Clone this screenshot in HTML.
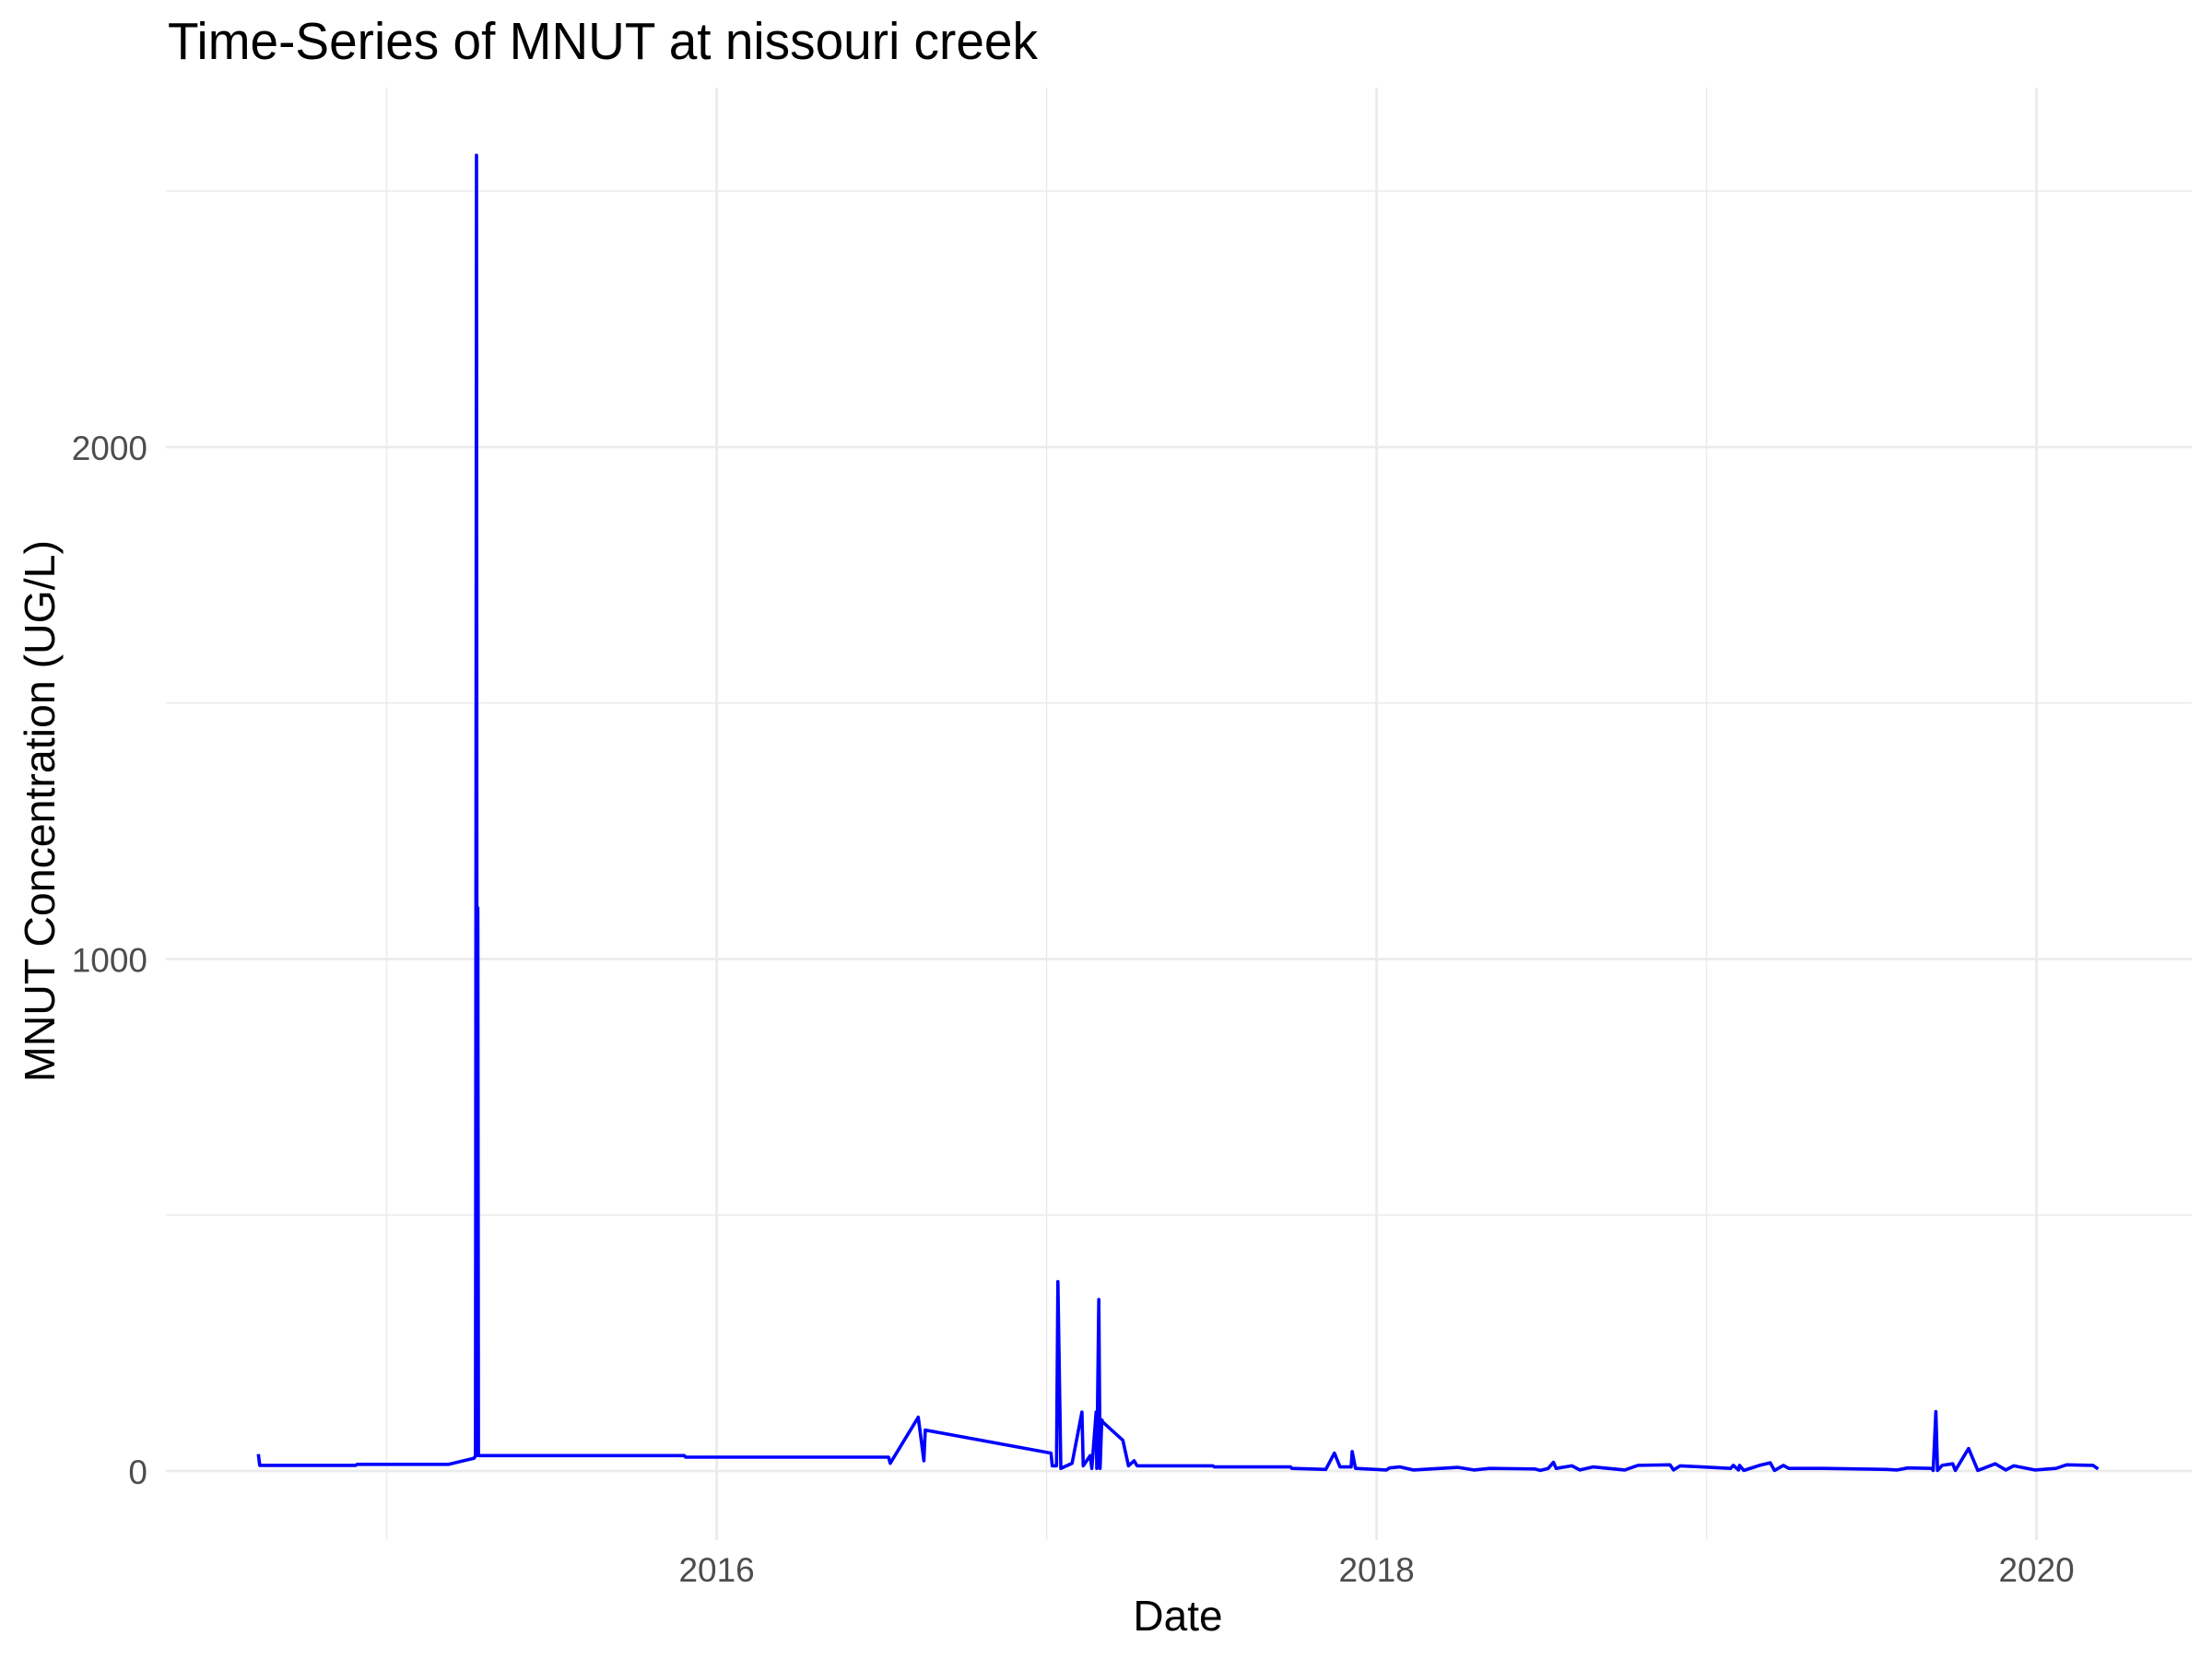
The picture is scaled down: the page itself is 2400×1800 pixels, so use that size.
<!DOCTYPE html>
<html><head><meta charset="utf-8">
<style>
html,body{margin:0;padding:0;background:#fff;}
svg{display:block;font-family:"Liberation Sans",Arial,sans-serif;}
</style></head>
<body>
<svg id="chart" width="2400" height="1800" viewBox="0 0 2400 1800" xmlns="http://www.w3.org/2000/svg">
<rect width="2400" height="1800" fill="#fff"/>
<g id="grid"></g>
<g id="ticks"></g>
<path id="series" fill="none" stroke="#0000ff" stroke-width="3.6" stroke-linejoin="round"/>
<text x="182" y="64" font-size="57" textLength="944" lengthAdjust="spacingAndGlyphs" fill="#000">Time-Series of MNUT at nissouri creek</text>
<text x="1278" y="1769" font-size="46" text-anchor="middle" fill="#000">Date</text>
<text transform="translate(59,880) rotate(-90)" font-size="46" textLength="588" lengthAdjust="spacingAndGlyphs" text-anchor="middle" fill="#000">MNUT Concentration (UG/L)</text>
</svg>
<script>
const dates = [2014.611,2014.615,2014.906,2014.910,2015.188,2015.265,2015.269,2015.272,2015.274,2015.276,2015.278,2015.902,2015.906,2016.521,2016.526,2016.611,2016.628,2016.632,2017.013,2017.017,2017.030,2017.034,2017.043,2017.077,2017.107,2017.111,2017.132,2017.137,2017.150,2017.152,2017.158,2017.162,2017.167,2017.171,2017.231,2017.248,2017.265,2017.274,2017.504,2017.508,2017.739,2017.743,2017.846,2017.872,2017.889,2017.923,2017.926,2017.936,2018.030,2018.039,2018.071,2018.111,2018.247,2018.295,2018.343,2018.480,2018.496,2018.520,2018.536,2018.544,2018.592,2018.616,2018.656,2018.752,2018.792,2018.889,2018.900,2018.920,2018.985,2019.073,2019.081,2019.097,2019.100,2019.113,2019.161,2019.193,2019.206,2019.233,2019.249,2019.353,2019.546,2019.578,2019.610,2019.682,2019.687,2019.695,2019.700,2019.714,2019.746,2019.754,2019.794,2019.822,2019.875,2019.907,2019.931,2019.995,2020.059,2020.091,2020.171,2020.187];
const values = [33,11,11,13,13,25,30,2570,30,1100,30,30,27,27,15,105,20,80,35,10,10,370,5,15,115,10,30,5,115,5,335,5,100,95,60,10,20,10,10,8,8,5,3,35,8,8,38,5,2,6,8,2,7,2,5,4,1,5,17,5,10,2,8,2,11,12,2,10,8,5,11,2,11,1,11,16,1,11,5,5,3,2,6,5,1,116,1,11,14,1,44,1,14,2,10,2,5,12,11,4];
const xTicks = [2016,2018,2020];
const xMinor = [2015,2017,2019];
const yTicks = [0,1000,2000];
const yMinor = [500,1500,2500];

const NS="http://www.w3.org/2000/svg";
const X0=180, X1=2378, Y0=95, Y1=1671;
function xs(yr){return 777.6+(yr-2016)*358;}
function ys(v){return 1596-v*0.5555;}
const grid=document.getElementById('grid'), ticks=document.getElementById('ticks');
function line(x1,y1,x2,y2,w,name){
  const l=document.createElementNS(NS,'line');
  l.setAttribute('x1',x1);l.setAttribute('y1',y1);l.setAttribute('x2',x2);l.setAttribute('y2',y2);
  l.setAttribute('stroke','#ebebeb');l.setAttribute('stroke-width',w);
  
  
  grid.appendChild(l);
}
yMinor.forEach(v=>line(X0,ys(v),X1,ys(v),1.4,'y-minor-gridline'));
xMinor.forEach(v=>line(xs(v),Y0,xs(v),Y1,1.4,'x-minor-gridline'));
yTicks.forEach(v=>line(X0,ys(v),X1,ys(v),2.8,'y-major-gridline'));
xTicks.forEach(v=>line(xs(v),Y0,xs(v),Y1,2.8,'x-major-gridline'));
function label(x,y,txt,anchor,name){
  const t=document.createElementNS(NS,'text');
  t.setAttribute('x',x);t.setAttribute('y',y);t.setAttribute('text-anchor',anchor);
  t.setAttribute('font-size','37');t.setAttribute('fill','#4d4d4d');
  t.textContent=txt;
  
  
  ticks.appendChild(t);
}
yTicks.forEach(v=>label(160,ys(v)+14,String(v),'end','y-tick-label'));
xTicks.forEach(v=>label(xs(v),1716,String(v),'middle','x-tick-label'));
let d='';
dates.forEach((yr,i)=>{d+=(i?'L':'M')+xs(yr).toFixed(1)+' '+ys(values[i]).toFixed(1);});
document.getElementById('series').setAttribute('d',d);
</script>
</body></html>
